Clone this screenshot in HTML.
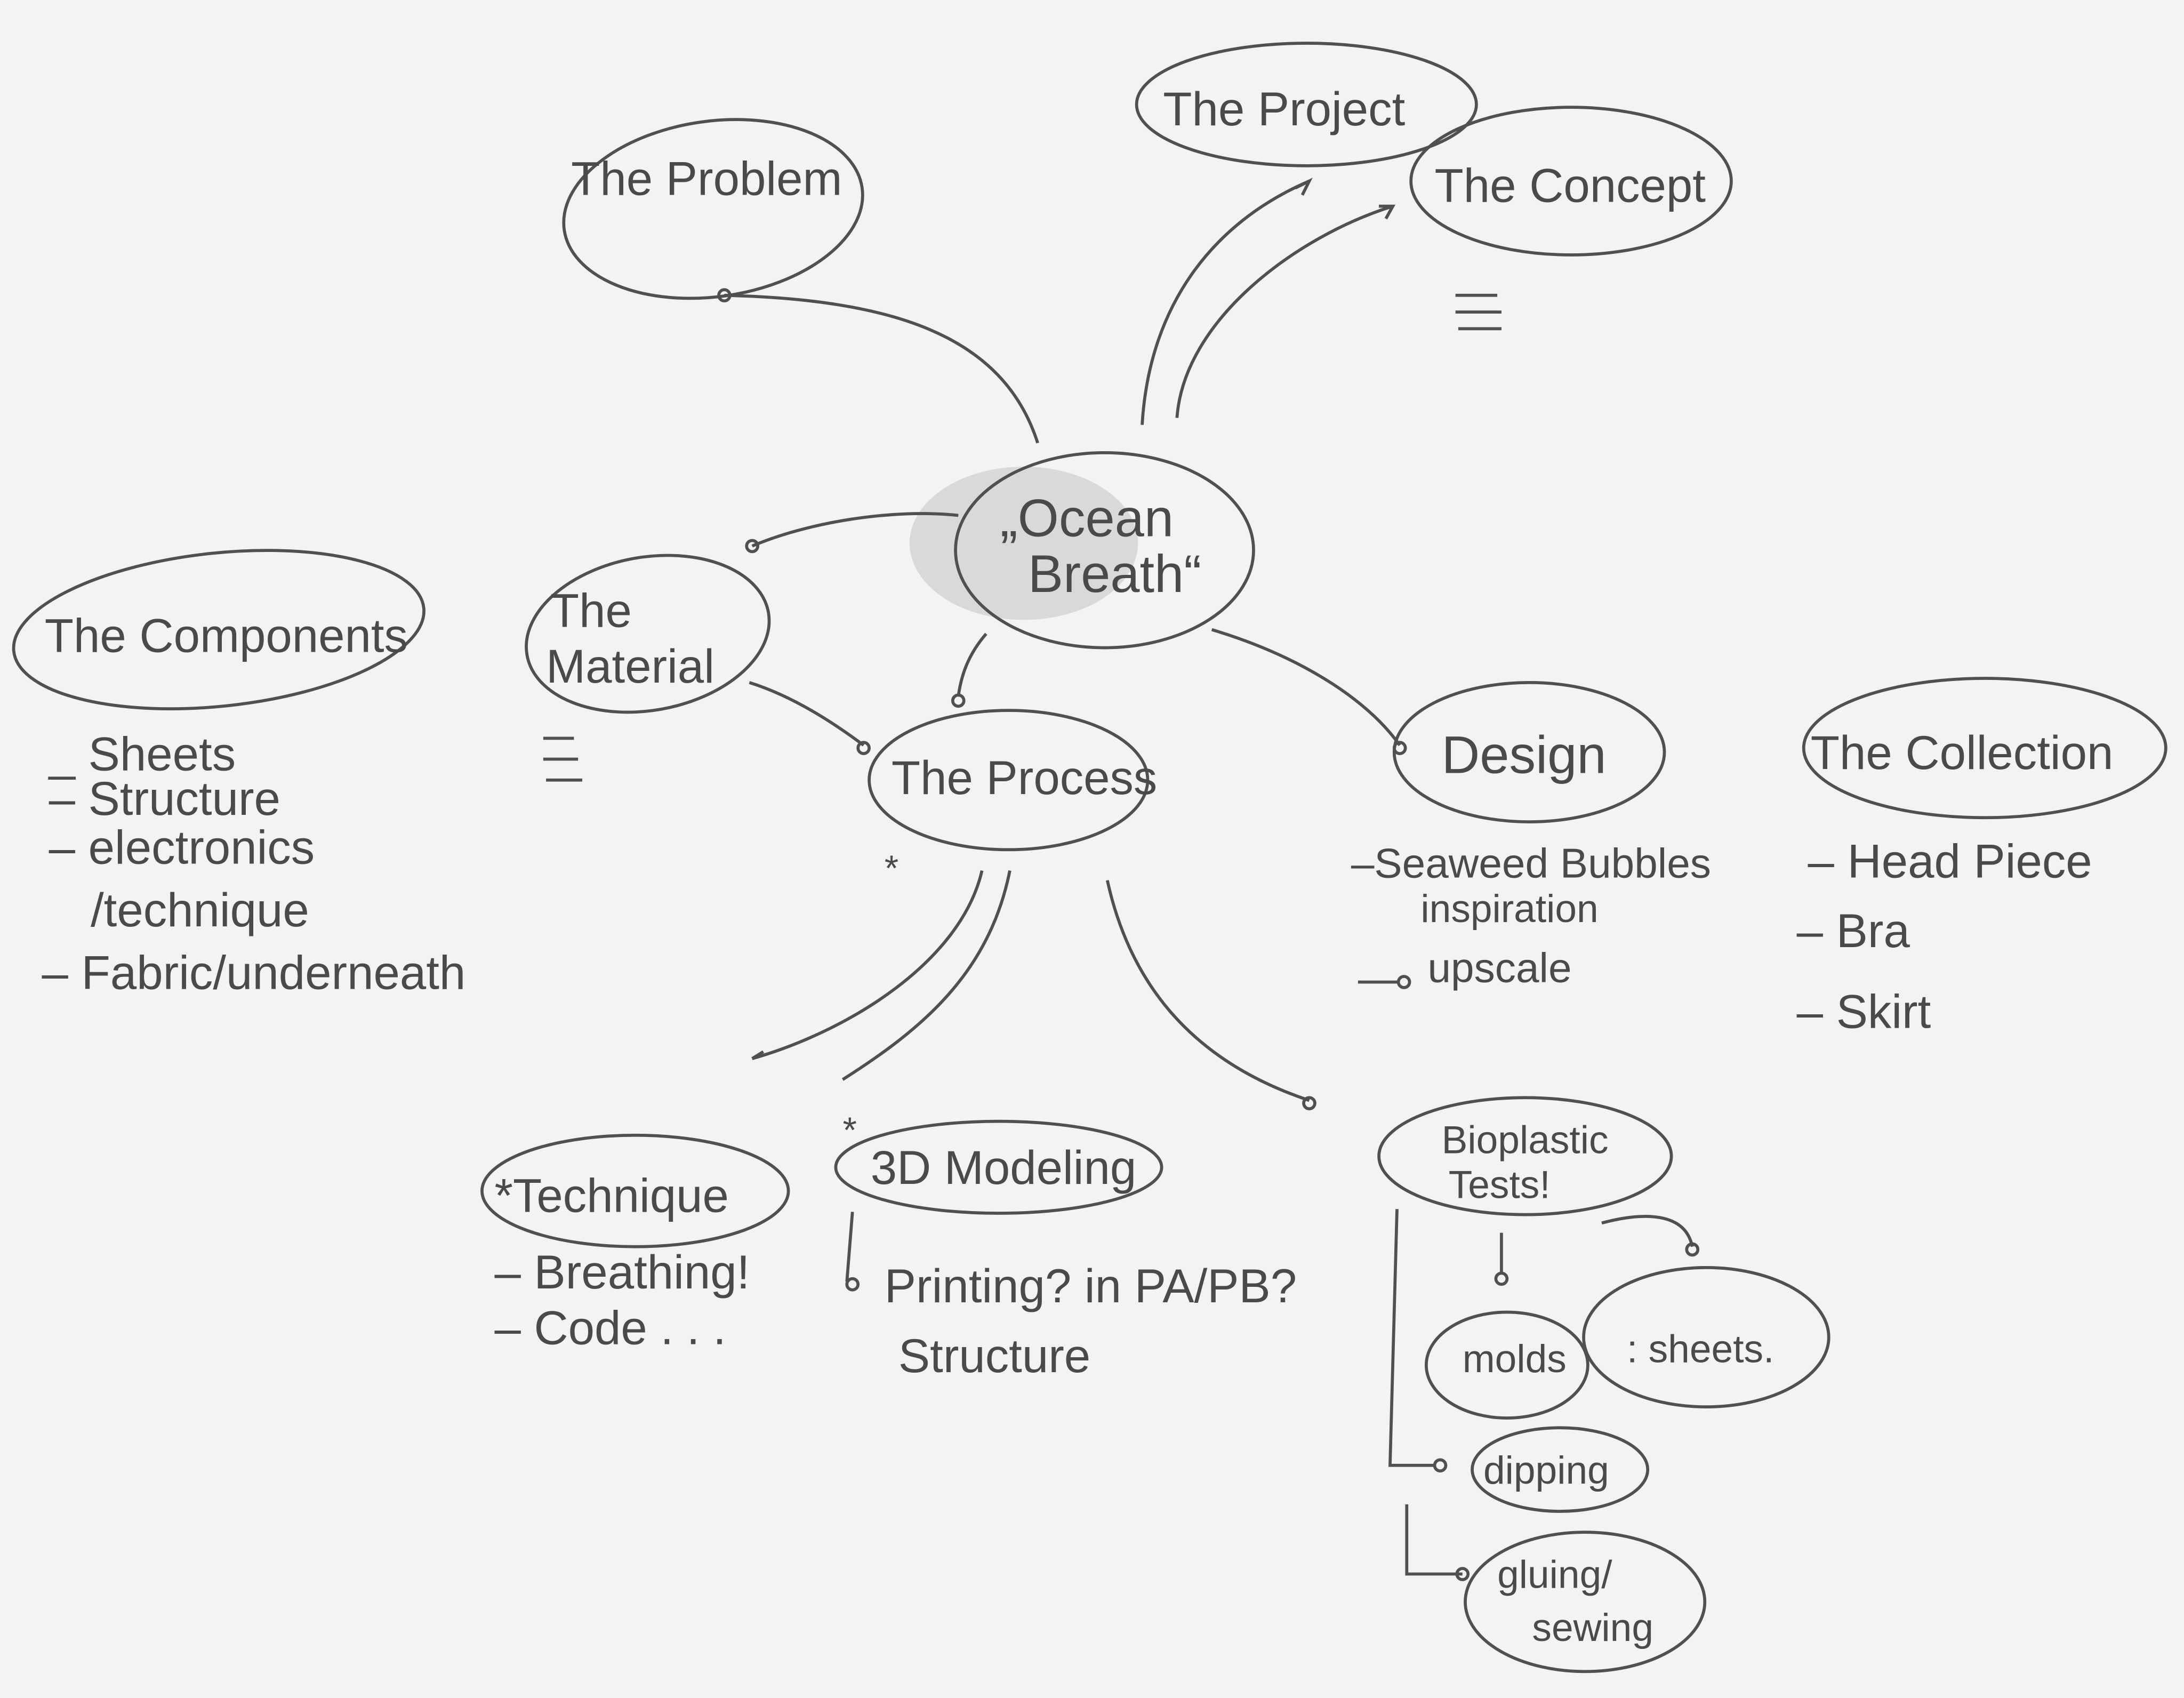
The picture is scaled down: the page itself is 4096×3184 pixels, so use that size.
<!DOCTYPE html>
<html><head><meta charset="utf-8"><style>
html,body{margin:0;padding:0;background:#f3f3f3;}
svg{display:block;}
text{font-family:"Liberation Sans",sans-serif;fill:#4a4a4a;}
</style></head><body>
<svg width="4096" height="3184" viewBox="0 0 1568 1219" xmlns="http://www.w3.org/2000/svg">
<rect width="1568" height="1219" fill="#f3f3f3"/>
<ellipse cx="735" cy="390" rx="82" ry="55" fill="#d9d9d9"/>
<g fill="none" stroke="#505050" stroke-width="2.2">
<ellipse cx="512" cy="150" rx="108" ry="63" transform="rotate(-8 512 150)"/>
<ellipse cx="938" cy="75" rx="122" ry="44"/>
<ellipse cx="1128" cy="130" rx="115" ry="53"/>
<ellipse cx="793" cy="395" rx="107" ry="70"/>
<ellipse cx="157" cy="452" rx="148" ry="55" transform="rotate(-6 157 452)"/>
<ellipse cx="465" cy="455" rx="88" ry="55" transform="rotate(-10 465 455)"/>
<ellipse cx="724" cy="560" rx="100" ry="50"/>
<ellipse cx="1098" cy="540" rx="97" ry="50"/>
<ellipse cx="1425" cy="537" rx="130" ry="50"/>
<ellipse cx="456" cy="855" rx="110" ry="40"/>
<ellipse cx="717" cy="838" rx="117" ry="33"/>
<ellipse cx="1095" cy="830" rx="105" ry="42"/>
<ellipse cx="1082" cy="980" rx="58" ry="38"/>
<ellipse cx="1225" cy="960" rx="88" ry="50"/>
<ellipse cx="1120" cy="1055" rx="63" ry="30"/>
<ellipse cx="1138" cy="1150" rx="86" ry="50"/>
<!-- connectors -->
<path d="M745 318 C720 240 640 215 520 212"/>
<path d="M820 305 C825 220 870 160 940 130"/>
<path d="M845 300 C850 230 930 170 1000 148"/>
<path d="M688 370 C640 365 580 375 540 392"/>
<path d="M708 455 C695 470 690 485 688 500"/>
<path d="M538 490 C570 500 600 520 620 535"/>
<path d="M870 452 C930 470 980 500 1005 535"/>
<path d="M705 625 C690 690 610 740 540 760"/>
<path d="M725 625 C710 700 660 740 605 775"/>
<path d="M795 632 C810 700 850 760 940 790"/>
<path d="M1003 868 L998 1052 L1030 1052"/>
<path d="M1010 1080 L1010 1130 L1050 1130"/>
<path d="M1150 878 C1180 870 1210 870 1215 895"/>
<path d="M1078 885 L1078 915"/>
<path d="M612 870 L608 920"/>
<path d="M975 705 L1005 705"/>
<!-- small arrow marks -->
<circle cx="520" cy="212" r="4"/><circle cx="540" cy="392" r="4"/><circle cx="688" cy="503" r="4"/>
<circle cx="620" cy="537" r="4"/><circle cx="1005" cy="537" r="4"/><circle cx="940" cy="792" r="4"/>
<circle cx="1215" cy="897" r="4"/><circle cx="1078" cy="918" r="4"/><circle cx="1034" cy="1052" r="4"/>
<circle cx="1050" cy="1130" r="4"/><circle cx="1008" cy="705" r="4"/><circle cx="612" cy="922" r="4"/>
<path d="M930 135 L940 130 L935 140"/><path d="M990 148 L1000 148 L995 157"/><path d="M540 760 L548 755"/>
<!-- equal marks -->
<path d="M1045 212 H1075 M1045 224 H1078 M1047 236 H1078"/>
<path d="M390 530 H412 M390 545 H415 M392 560 H418"/>
</g>
<g font-size="34">
<text x="410" y="140">The Problem</text>
<text x="835" y="90">The Project</text>
<text x="1030" y="145">The Concept</text>
<text x="718" y="385" font-size="38">„Ocean</text>
<text x="738" y="425" font-size="38">Breath“</text>
<text x="32" y="468">The Components</text>
<text x="395" y="450">The</text>
<text x="392" y="490">Material</text>
<text x="640" y="570">The Process</text>
<text x="1035" y="555" font-size="38">Design</text>
<text x="1300" y="552">The Collection</text>
<text x="355" y="870">*Technique</text>
<text x="625" y="850">3D Modeling</text>
<text x="1035" y="828" font-size="28">Bioplastic</text>
<text x="1040" y="860" font-size="28">Tests!</text>
<text x="1050" y="985" font-size="28">molds</text>
<text x="1168" y="978" font-size="28">: sheets.</text>
<text x="1065" y="1065" font-size="28">dipping</text>
<text x="1075" y="1140" font-size="28">gluing/</text>
<text x="1100" y="1178" font-size="28">sewing</text>
<text x="35" y="553">_ Sheets</text>
<text x="35" y="585">– Structure</text>
<text x="35" y="620">–  electronics</text>
<text x="65" y="665">/technique</text>
<text x="30" y="710">–  Fabric/underneath</text>
<text x="970" y="630" font-size="30">–Seaweed Bubbles</text>
<text x="1020" y="662" font-size="28">inspiration</text>
<text x="1025" y="705" font-size="30">upscale</text>
<text x="1298" y="630">– Head Piece</text>
<text x="1290" y="680">–   Bra</text>
<text x="1290" y="738">–   Skirt</text>
<text x="355" y="925">– Breathing!</text>
<text x="355" y="965">– Code . . .</text>
<text x="635" y="935">Printing? in PA/PB?</text>
<text x="645" y="985">Structure</text>
<text x="635" y="632" font-size="26">*</text>
<text x="605" y="820" font-size="26">*</text>
</g>
</svg>
</body></html>
